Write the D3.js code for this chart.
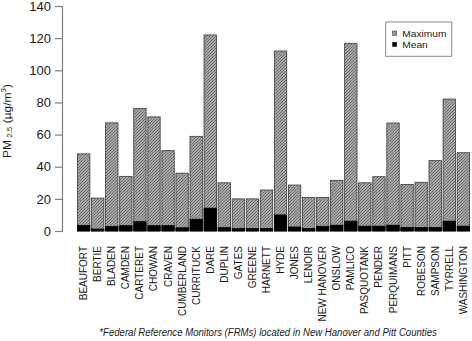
<!DOCTYPE html>
<html><head><meta charset="utf-8">
<script src="https://cdn.jsdelivr.net/npm/d3@7/dist/d3.min.js"></script>
<style>
html,body{margin:0;padding:0;background:#fff;}
svg{display:block;}
text{font-family:"Liberation Sans",Arial,Helvetica,sans-serif;fill:#1a1a1a;}
</style></head>
<body>
<svg id="chart" width="472" height="341"></svg>
<script>
const categories = ["BEAUFORT","BERTIE","BLADEN","CAMDEN","CARTERET","CHOWAN","CRAVEN","CUMBERLAND","CURRITUCK","DARE","DUPLIN","GATES","GREENE","HARNETT","HYDE","JONES","LENOIR","NEW HANOVER","ONSLOW","PAMLICO","PASQUOTANK","PENDER","PERQUIMANS","PITT","ROBESON","SAMPSON","TYRRELL","WASHINGTON"];
const maximum = [48,20.5,67.3,34,76.3,71,50,36,58.9,122,30,20,20,25.5,112,28.6,20.8,20.9,31.5,116.8,30,33.8,67.2,29,30.3,43.8,82.1,48.7];
const mean = [3.5,1.2,2.8,3.3,5.8,3.3,3.3,2,7.3,14.2,2.1,1.5,1.5,1.5,10,2.5,1.6,2.9,3.6,6.1,3,3,3.6,2.2,2.2,2.2,6.1,3];
const yTicks = [0,20,40,60,80,100,120,140];
const seriesNames = ["Maximum","Mean"];
const footnote = "*Federal Reference Monitors (FRMs) located in New Hanover and Pitt Counties";

const svg = d3.select("#chart");
const defs = svg.append("defs");
const pat = defs.append("pattern").attr("id","hatch").attr("patternUnits","userSpaceOnUse")
  .attr("width",3).attr("height",3);
pat.append("rect").attr("width",3).attr("height",3).attr("fill","#a8a8a8");
pat.append("path").attr("d","M-1,1 l2,-2 M0,3 l3,-3 M2,4 l2,-2")
  .attr("stroke","#646464").attr("stroke-width",0.9);

const x = d3.scaleBand().domain(categories).range([77.5, 469.5]).paddingInner(0.12).paddingOuter(0);
const y = d3.scaleLinear().domain([0,140]).range([231,6]);

// y axis
const yAxis = d3.axisLeft(y).tickValues(yTicks).tickSize(7).tickPadding(4);
const ga = svg.append("g").attr("transform","translate(62,0)").call(yAxis);
ga.select(".domain").attr("stroke","#808080").attr("stroke-width",1.2);
ga.selectAll(".tick line").attr("stroke","#808080").attr("stroke-width",1.2);
ga.selectAll(".tick text").attr("font-size",13).attr("fill","#1a1a1a")
  .attr("font-family",'"Liberation Sans",Arial,sans-serif');

// bars
svg.append("g").selectAll("rect").data(categories).join("rect")
  .attr("x",d=>x(d)).attr("width",x.bandwidth())
  .attr("y",(d,i)=>y(maximum[i])).attr("height",(d,i)=>y(0)-y(maximum[i]))
  .attr("fill","url(#hatch)").attr("stroke","#3a3a3a").attr("stroke-width",0.8);
svg.append("g").selectAll("rect").data(categories).join("rect")
  .attr("x",d=>x(d)).attr("width",x.bandwidth())
  .attr("y",(d,i)=>y(mean[i])).attr("height",(d,i)=>y(0)-y(mean[i]))
  .attr("fill","#000").attr("stroke","#000").attr("stroke-width",0.8);

// category labels
svg.append("g").selectAll("g").data(categories).join("g")
  .attr("transform",d=>`translate(${x(d)+x.bandwidth()/2+3.5},246) rotate(-90)`)
  .append("text").attr("text-anchor","end").attr("font-size",10).text(d=>d);

// y label
const yl = svg.append("g").attr("transform","translate(10.5,121) rotate(-90) scale(1,0.85)")
  .append("text").attr("text-anchor","middle").attr("font-size",12);
yl.append("tspan").text("PM");
yl.append("tspan").attr("font-size",8).attr("dy",2).text(" 2.5");
yl.append("tspan").attr("dy",-2).text(" (µg/m");
yl.append("tspan").attr("font-size",8).attr("dy",-5).text("3");
yl.append("tspan").attr("dy",5).text(")");

// legend
const lg = svg.append("g");
lg.append("rect").attr("x",385.7).attr("y",22).attr("width",66).attr("height",34.3)
  .attr("fill","#fff").attr("stroke","#8a8a8a").attr("stroke-width",1);
const fills = ["url(#hatch)","#000"];
seriesNames.forEach((s,i)=>{
  lg.append("rect").attr("x",392.4).attr("y",31 + i*11.2).attr("width",4.4).attr("height",4.4)
    .attr("fill",fills[i]).attr("stroke","#333").attr("stroke-width",0.5);
  lg.append("g").attr("transform",`translate(402.3,${37 + i*11})`)
    .append("text").attr("font-size",10.2).attr("transform","scale(1,0.9)").text(s);
});

// footnote
svg.append("text").attr("x",99.3).attr("y",335.5)
  .attr("font-size",10).attr("font-style","italic")
  .attr("textLength",337.5).attr("lengthAdjust","spacingAndGlyphs").text(footnote);
</script>
</body></html>
